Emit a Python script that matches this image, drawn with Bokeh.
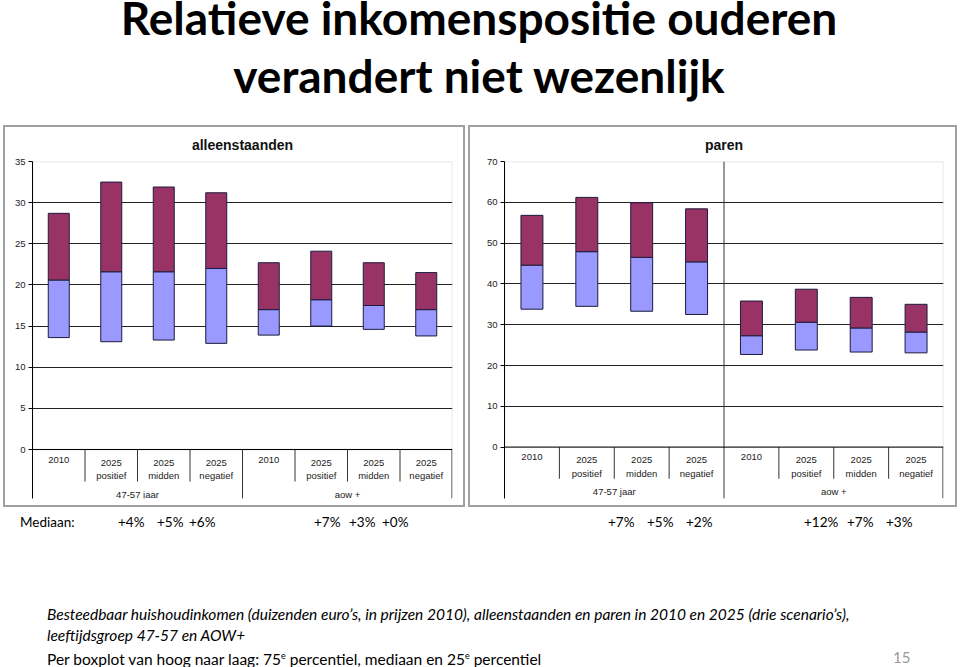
from bokeh.plotting import figure
from bokeh.models import (ColumnDataSource, FactorRange, FixedTicker, Span,
                          BoxAnnotation, Div, Range1d)
from bokeh.layouts import column, row
from bokeh.embed import file_html
from bokeh.resources import INLINE
from bokeh.core.properties import value

# ---------------- data ----------------
groups = ["47-57 jaar", "aow +"]
scenarios = ["2010", "2025 positief", "2025 midden", "2025 negatief"]
scenario_labels = ["2010", "2025\npositief", "2025\nmidden", "2025\nnegatief"]

# alleenstaanden (x 1000 euro): 75e percentiel, mediaan, 25e percentiel
alleen_p75 = [28.7, 32.5, 31.9, 31.2, 22.7, 24.1, 22.7, 21.5]
alleen_med = [20.6, 21.6, 21.6, 22.0, 17.0, 18.2, 17.5, 17.0]
alleen_p25 = [13.6, 13.1, 13.3, 12.9, 13.9, 15.0, 14.6, 13.8]

# paren
paren_p75 = [56.8, 61.2, 59.9, 58.4, 35.8, 38.7, 36.7, 35.0]
paren_med = [44.6, 47.9, 46.5, 45.4, 27.3, 30.6, 29.2, 28.2]
paren_p25 = [33.8, 34.5, 33.3, 32.5, 22.7, 23.8, 23.3, 23.1]

alleen_ticks = [0, 5, 10, 15, 20, 25, 30, 35]
paren_ticks = [0, 10, 20, 30, 40, 50, 60, 70]

mediaan_label = "Mediaan:"
mediaan_values = ["+4%", "+5%", "+6%", "+7%", "+3%", "+0%",
                  "+7%", "+5%", "+2%", "+12%", "+7%", "+3%"]

title_lines = ["Relatieve inkomenspositie ouderen", "verandert niet wezenlijk"]
caption_italic = ["Besteedbaar huishoudinkomen (duizenden euro\u2019s, in prijzen 2010), "
                  "alleenstaanden en paren in 2010 en 2025 (drie scenario\u2019s),",
                  "leeftijdsgroep 47-57 en AOW+"]
caption_plain = ("Per boxplot van hoog naar laag: 75<sup style='font-size:9px'>e</sup> percentiel, "
                 "mediaan en 25<sup style='font-size:9px'>e</sup> percentiel")
page_number = "15"

# ---------------- style ----------------
MAROON = "#993366"
LILAC = "#9999FF"
EDGE = "#1c1c3c"
CHART_FONT = "Liberation Sans"
SLIDE_FONT = "Lato"
PANEL_H = 382


def make_chart(title, p75, med, p25, ticks, width, frame_left, frame_w,
               frame_top, zero_px, frame_h, divider_full, margin):
    ymax = ticks[-1]
    scale = zero_px / ymax
    ystart = -(frame_h - zero_px) / scale

    def below(px):
        return -px / scale

    factors = [(g, s) for g in groups for s in scenarios]
    xr = FactorRange(factors=factors, group_padding=0, subgroup_padding=0,
                     factor_padding=0, range_padding=0)
    p = figure(width=width, height=PANEL_H, x_range=xr,
               y_range=Range1d(ystart, ymax), output_backend="svg",
               toolbar_location=None, title=title, margin=margin,
               min_border_left=frame_left,
               min_border_right=width - frame_left - frame_w,
               min_border_top=frame_top,
               min_border_bottom=PANEL_H - frame_top - frame_h,
               styles={"box-shadow": "inset 0 0 0 2px #a0a0a0",
                       "background-color": "white"})
    p.outline_line_color = None
    p.background_fill_color = None
    p.border_fill_color = None

    p.title.align = "center"
    p.title.text_font = CHART_FONT
    p.title.text_font_size = "14px"
    p.title.text_font_style = "bold"
    p.title.text_color = "#111111"
    p.title.standoff = 17

    p.xaxis.visible = False
    p.xgrid.visible = False

    ax = p.yaxis[0]
    ax.ticker = FixedTicker(ticks=ticks)
    ax.axis_line_color = "black"
    ax.major_tick_out = 4
    ax.major_tick_in = 0
    ax.minor_tick_line_color = None
    ax.major_tick_line_color = "black"
    ax.major_label_standoff = 3
    ax.major_label_text_font = CHART_FONT
    ax.major_label_text_font_size = "9.5px"
    ax.major_label_text_color = "#222222"

    p.ygrid.ticker = FixedTicker(ticks=ticks[1:-1])
    p.ygrid.grid_line_color = "#222222"
    p.ygrid.grid_line_width = 1

    # plot-area border (gray), under everything
    p.add_layout(BoxAnnotation(bottom=0, top=ymax, fill_color=None,
                               line_color="#9a9a9a", line_width=1.5,
                               level="underlay"))
    # category axis line at 0
    p.add_layout(Span(location=0, dimension="width", line_color="black",
                      line_width=1))

    src = ColumnDataSource(dict(x=factors, p75=p75, med=med, p25=p25))
    p.vbar(x="x", bottom="p25", top="med", width=0.4, source=src,
           fill_color=LILAC, line_color=EDGE, line_width=1)
    p.vbar(x="x", bottom="med", top="p75", width=0.4, source=src,
           fill_color=MAROON, line_color=EDGE, line_width=1)

    # separators of the category axis
    sx, sy0, sy1 = [], [], []
    for g in groups:
        for s in scenarios[:-1]:
            sx.append((g, s, 0.5))
            sy0.append(0)
            sy1.append(below(32))
    sx.append((groups[0], scenarios[-1], 0.5))
    sy0.append(ymax if divider_full else 0)
    sy1.append(ystart)
    sx.append((groups[1], scenarios[-1], 0.49))
    sy0.append(0)
    sy1.append(ystart)
    p.segment(x0="x", y0="y0", x1="x", y1="y1",
              source=ColumnDataSource(dict(x=sx, y0=sy0, y1=sy1)),
              line_color="#333333", line_width=1)

    # category labels
    lab = ColumnDataSource(dict(x=factors, y=[below(7)] * len(factors),
                                text=scenario_labels * len(groups)))
    p.text(x="x", y="y", text="text", source=lab, text_align="center",
           text_baseline="top", text_font=value(CHART_FONT),
           text_font_size="9.5px", text_color="#222222", text_line_height=1.25)
    glab = ColumnDataSource(dict(x=groups, y=[below(45)] * len(groups),
                                 text=groups))
    p.text(x="x", y="y", text="text", source=glab, text_align="center",
           text_baseline="middle", text_font=value(CHART_FONT),
           text_font_size="9.5px", text_color="#222222")
    return p


left = make_chart("alleenstaanden", alleen_p75, alleen_med, alleen_p25,
                  alleen_ticks, width=462, frame_left=29, frame_w=420,
                  frame_top=36, zero_px=288, frame_h=337, divider_full=False,
                  margin=(0, 0, 0, 3))
right = make_chart("paren", paren_p75, paren_med, paren_p25, paren_ticks,
                   width=489, frame_left=36, frame_w=439, frame_top=35,
                   zero_px=289, frame_h=341, divider_full=True,
                   margin=(0, 0, 0, 3))

ROOT_W = 957

title_html = (
    f"<div style='position:relative;width:{ROOT_W}px;height:125px;"
    f"font-family:{SLIDE_FONT};font-weight:bold;font-size:46px;color:black;'>"
    f"<div style='position:absolute;left:0;top:-2px;width:958px;"
    f"text-align:center;line-height:40px;white-space:nowrap'>{title_lines[0]}</div>"
    f"<div style='position:absolute;left:0;top:56px;width:958px;"
    f"text-align:center;line-height:40px;white-space:nowrap'>{title_lines[1]}</div>"
    "</div>")
title_div = Div(text=title_html, width=ROOT_W, height=125, margin=0)

# window x positions of the median annotations (style)
med_x = [118, 157, 189, 314, 349, 382, 608, 647, 686, 804, 847, 886]
spans = [f"<span style='position:absolute;left:20px;top:6px;line-height:18px'>{mediaan_label}</span>"]
for xx, t in zip(med_x, mediaan_values):
    spans.append(f"<span style='position:absolute;left:{xx}px;top:6px;"
                 f"line-height:18px'>{t}</span>")
cap_lines = [
    f"<div style='position:absolute;left:47px;top:97px;line-height:21px;font-size:15.5px;font-style:italic;white-space:nowrap'>{caption_italic[0]}</div>",
    f"<div style='position:absolute;left:47px;top:118px;line-height:21px;font-size:15.5px;font-style:italic;white-space:nowrap'>{caption_italic[1]}</div>",
    f"<div style='position:absolute;left:47px;top:141px;line-height:16px;font-size:15.5px;white-space:nowrap'>{caption_plain}</div>",
    f"<div style='position:absolute;left:893px;top:143px;line-height:14px;color:#9a9a9a;font-size:15px'>{page_number}</div>",
]
bottom_html = (
    f"<div style='position:relative;width:{ROOT_W}px;height:158px;"
    f"font-family:{SLIDE_FONT};font-size:13.5px;color:black;'>"
    + "".join(spans) + "".join(cap_lines) + "</div>")
bottom_div = Div(text=bottom_html, width=ROOT_W, height=158, margin=0)

charts = row(left, right, spacing=0)
p = column(title_div, charts, bottom_div, spacing=0)

open("out.html", "w").write(file_html(p, INLINE))
